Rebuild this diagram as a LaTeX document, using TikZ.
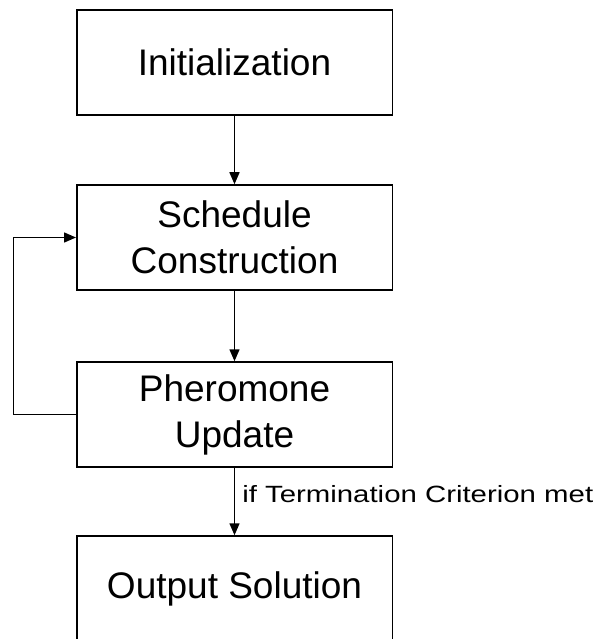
\documentclass[tikz,border=0pt]{standalone}
\usepackage{fontspec}
\setmainfont{Liberation Sans}
\usetikzlibrary{arrows.meta}

\begin{document}
\begin{tikzpicture}[x=1pt,y=-1pt]
	\tikzstyle{every node}+=[inner sep=0pt]
	\tikzstyle{box}=[draw, line width=1.5pt, minimum width=315.5pt, minimum height=105pt, align=center, font=\fontsize{37}{46}\selectfont]
	\tikzstyle{flow}=[line width=1.5pt, -{Triangle[length=12pt,width=10pt]}]
	\tikzstyle{cond}=[anchor=base west, xshift=7pt, yshift=-1pt, font=\fontsize{23.5}{28}\selectfont]
	\useasboundingbox (0,0) rectangle (601,639);
	\clip (0,0) rectangle (601,639);
	\node [box] (init) at (234.5,62.5) {Initialization};
	\node [box] (sched) at (234.5,237.5) {Schedule\\Construction};
	\node [box] (upd) at (234.5,414.5) {Pheromone\\Update};
	\node [box] (out) at (234.5,588.5) {Output Solution};
	\draw [flow] (init) -- (sched);
	\draw [flow] (sched) -- (upd);
	\draw [flow] (upd) -- node [cond] {\scalebox{1.25}[1]{if Termination Criterion met}} (out);
	\draw [flow] (upd.west) -- ++(-62.5,0) |- (sched.west);
\end{tikzpicture}
\end{document}
